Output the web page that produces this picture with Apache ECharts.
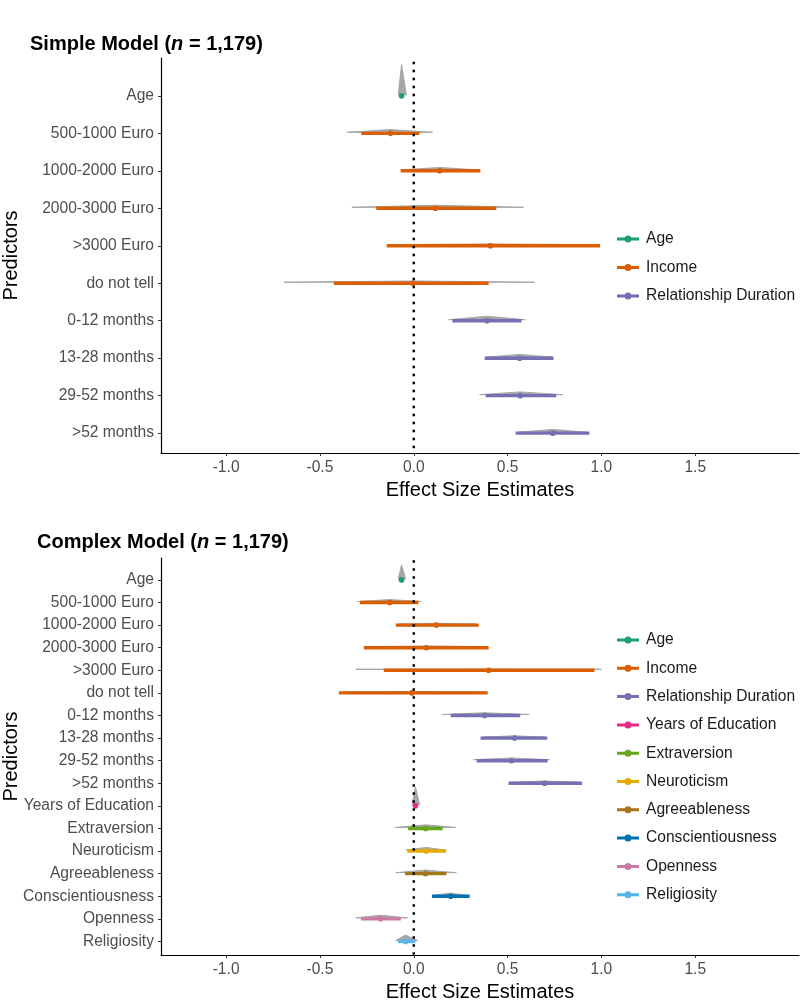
<!DOCTYPE html>
<html>
<head>
<meta charset="utf-8">
<title>Simple and Complex Model</title>
<script src="https://cdn.jsdelivr.net/npm/echarts@6/dist/echarts.min.js"></script>
<style>
  html, body { margin: 0; padding: 0; background: #fff; }
  #chart { width: 800px; height: 1000px; }
</style>
</head>
<body>
<div id="chart"></div>
<script>
// 分组与颜色
var groupNames = ['Age', 'Income', 'Relationship Duration', 'Years of Education', 'Extraversion',
    'Neuroticism', 'Agreeableness', 'Conscientiousness', 'Openness', 'Religiosity'];
var groupColors = ['#1B9E77', '#D95F02', '#7570B3', '#E7298A', '#66A61E',
    '#E6AB02', '#A6761D', '#0072B2', '#CC79A7', '#56B4E9'];

// 简单模型 (Simple Model)
var simpleLabels = ['Age', '500-1000 Euro', '1000-2000 Euro', '2000-3000 Euro', '>3000 Euro', 'do not tell',
    '0-12 months', '13-28 months', '29-52 months', '>52 months'];
var simpleGroup = ['Age', 'Income', 'Income', 'Income', 'Income', 'Income',
    'Relationship Duration', 'Relationship Duration', 'Relationship Duration', 'Relationship Duration'];
var simpleEst = [-0.065, -0.124, 0.138, 0.115, 0.408, -0.004, 0.390, 0.564, 0.567, 0.741];
var simpleLo = [-0.075, -0.280, -0.070, -0.200, -0.144, -0.426, 0.206, 0.378, 0.383, 0.543];
var simpleHi = [-0.055, 0.030, 0.355, 0.440, 0.993, 0.399, 0.574, 0.745, 0.759, 0.936];
var simpleSlabLo = [-0.083, -0.355, -0.060, -0.330, -0.130, -0.690, 0.186, 0.390, 0.351, 0.560];
var simpleSlabHi = [-0.039, 0.100, 0.330, 0.585, 0.950, 0.643, 0.594, 0.740, 0.795, 0.920];
var simpleSlabH = [0.83, 0.10, 0.09, 0.08, 0.05, 0.06, 0.12, 0.10, 0.10, 0.10];

// 复杂模型 (Complex Model)
var complexLabels = ['Age', '500-1000 Euro', '1000-2000 Euro', '2000-3000 Euro', '>3000 Euro', 'do not tell',
    '0-12 months', '13-28 months', '29-52 months', '>52 months', 'Years of Education', 'Extraversion',
    'Neuroticism', 'Agreeableness', 'Conscientiousness', 'Openness', 'Religiosity'];
var complexGroup = ['Age', 'Income', 'Income', 'Income', 'Income', 'Income',
    'Relationship Duration', 'Relationship Duration', 'Relationship Duration', 'Relationship Duration',
    'Years of Education', 'Extraversion', 'Neuroticism', 'Agreeableness', 'Conscientiousness',
    'Openness', 'Religiosity'];
var complexEst = [-0.065, -0.128, 0.120, 0.067, 0.399, -0.010, 0.378, 0.537, 0.521, 0.697,
    0.009, 0.064, 0.066, 0.062, 0.197, -0.177, -0.044];
var complexLo = [-0.075, -0.287, -0.096, -0.266, -0.160, -0.399, 0.197, 0.356, 0.335, 0.505,
    0.002, -0.030, -0.034, -0.046, 0.097, -0.282, -0.083];
var complexHi = [-0.055, 0.025, 0.346, 0.399, 0.963, 0.394, 0.567, 0.711, 0.713, 0.897,
    0.016, 0.154, 0.172, 0.174, 0.298, -0.069, 0.009];
var complexSlabLo = [-0.083, -0.300, -0.080, -0.250, -0.309, -0.380, 0.151, 0.370, 0.319, 0.520,
    -0.009, -0.100, -0.040, -0.096, 0.110, -0.309, -0.096];
var complexSlabHi = [-0.043, 0.040, 0.330, 0.380, 1.000, 0.370, 0.615, 0.700, 0.723, 0.880,
    0.032, 0.222, 0.170, 0.227, 0.280, -0.034, 0.020];
var complexSlabH = [0.66, 0.13, 0.08, 0.08, 0.05, 0.06, 0.12, 0.10, 0.12, 0.10,
    0.84, 0.16, 0.16, 0.16, 0.14, 0.16, 0.28];

var xTicks = [-1.0, -0.5, 0.0, 0.5, 1.0, 1.5];

var legendIcon = 'path://M0,2.5L22,2.5L22,5.5L0,5.5Z M7.5,4A3.5,3.5 0 1,1 14.5,4A3.5,3.5 0 1,1 7.5,4Z';

function rowsToData(labels, group, est, lo, hi, slo, shi, sh, name) {
    var out = [];
    for (var i = 0; i < labels.length; i++) {
        if (group[i] === name) {
            out.push([est[i], lo[i], hi[i], slo[i], shi[i], sh[i], i]);
        }
    }
    return out;
}

function makeRender(color) {
    return function (params, api) {
        var row = api.value(6);
        var est = api.value(0);
        var h = api.value(5);
        var pLo = api.coord([api.value(3), row]);
        var pHi = api.coord([api.value(4), row]);
        var pTop = api.coord([est, row - h]);
        var a = api.coord([api.value(1), row]);
        var b = api.coord([api.value(2), row]);
        var c = api.coord([est, row]);
        return {
            type: 'group',
            children: [
                {
                    type: 'polygon',
                    shape: { points: [[pLo[0], pLo[1] - 1], [pTop[0], pTop[1]], [pHi[0], pHi[1] - 1]] },
                    style: { fill: '#a6a6a6', stroke: '#a6a6a6', lineWidth: 1 }
                },
                {
                    type: 'line',
                    shape: { x1: a[0], y1: a[1], x2: b[0], y2: b[1] },
                    style: { stroke: color, lineWidth: 3.4 }
                },
                {
                    type: 'circle',
                    shape: { cx: c[0], cy: c[1], r: 2.8 },
                    style: { fill: color }
                }
            ]
        };
    };
}

function titleText(name) {
    return '{b|' + name + ' (}{i|n}{b| = 1,179)}';
}

var titleRich = {
    b: { fontFamily: 'Liberation Sans', fontWeight: 'bold', fontSize: 20, color: '#000' },
    i: { fontFamily: 'Liberation Sans', fontWeight: 'bold', fontStyle: 'italic', fontSize: 20, color: '#000' }
};

function xAxisCfg(grid) {
    return {
        type: 'value', gridIndex: grid, min: -1.347, max: 2.053,
        name: 'Effect Size Estimates', nameLocation: 'middle', nameGap: 27, nameMoveOverlap: false,
        nameTextStyle: { fontFamily: 'Liberation Sans', fontSize: 20, color: '#000' },
        splitLine: { show: false },
        axisLine: { onZero: false, lineStyle: { color: '#000', width: 1.2 } },
        axisTick: { show: true, length: 3, customValues: xTicks, lineStyle: { color: '#333' } },
        axisLabel: {
            customValues: xTicks, margin: 7,
            fontFamily: 'Liberation Sans', fontSize: 15.6, color: '#4d4d4d',
            formatter: function (v) { return v.toFixed(1); }
        }
    };
}

function yAxisCfg(grid, labels, min, max) {
    var idx = labels.map(function (d, i) { return i; });
    return {
        type: 'value', gridIndex: grid, inverse: true, min: min, max: max,
        name: 'Predictors', nameLocation: 'middle', nameGap: 140, nameRotate: 90, nameMoveOverlap: false,
        nameTextStyle: { fontFamily: 'Liberation Sans', fontSize: 20, color: '#000' },
        splitLine: { show: false },
        axisLine: { show: true, onZero: false, lineStyle: { color: '#000', width: 1.2 } },
        axisTick: { show: true, length: 3, customValues: idx, lineStyle: { color: '#333' } },
        axisLabel: {
            customValues: idx, margin: 7,
            fontFamily: 'Liberation Sans', fontSize: 15.6, color: '#4d4d4d',
            formatter: function (v) { return labels[Math.round(v)]; }
        }
    };
}

var series = [];
var simpleNames = ['Age', 'Income', 'Relationship Duration'];
simpleNames.forEach(function (name) {
    var color = groupColors[groupNames.indexOf(name)];
    series.push({
        name: name, type: 'custom', xAxisIndex: 0, yAxisIndex: 0,
        itemStyle: { color: color },
        renderItem: makeRender(color),
        data: rowsToData(simpleLabels, simpleGroup, simpleEst, simpleLo, simpleHi,
            simpleSlabLo, simpleSlabHi, simpleSlabH, name)
    });
});
groupNames.forEach(function (name, k) {
    var color = groupColors[k];
    series.push({
        name: name, type: 'custom', xAxisIndex: 1, yAxisIndex: 1,
        itemStyle: { color: color },
        renderItem: makeRender(color),
        data: rowsToData(complexLabels, complexGroup, complexEst, complexLo, complexHi,
            complexSlabLo, complexSlabHi, complexSlabH, name)
    });
});

// 零点虚线
var topRange = [-1.01, 9.53];
var botRange = [-0.97, 16.6];
series.push({
    type: 'line', xAxisIndex: 0, yAxisIndex: 0, symbol: 'none', z: 10, silent: true,
    lineStyle: { color: '#000', width: 2.5, type: [2.5, 5.5] },
    data: [[0, topRange[0] + 0.1], [0, topRange[1]]]
});
series.push({
    type: 'line', xAxisIndex: 1, yAxisIndex: 1, symbol: 'none', z: 10, silent: true,
    lineStyle: { color: '#000', width: 2.5, type: [2.5, 5.5] },
    data: [[0, botRange[0] + 0.1], [0, botRange[1]]]
});

var legendText = { fontFamily: 'Liberation Sans', fontSize: 15.6, color: '#1a1a1a', lineHeight: 18, padding: [0, 0, 0, 2] };

var option = {
    animation: false,
    backgroundColor: '#fff',
    title: [
        { text: titleText('Simple Model'), left: 25, top: 29, textStyle: { rich: titleRich } },
        { text: titleText('Complex Model'), left: 32, top: 527, textStyle: { rich: titleRich } }
    ],
    legend: [
        {
            data: simpleNames, left: 612, top: 225, orient: 'vertical',
            itemWidth: 22, itemHeight: 8, itemGap: 10.5, icon: legendIcon,
            textStyle: legendText, selectedMode: false
        },
        {
            data: groupNames, left: 612, top: 626, orient: 'vertical',
            itemWidth: 22, itemHeight: 8, itemGap: 10.3, icon: legendIcon,
            textStyle: legendText, selectedMode: false
        }
    ],
    grid: [
        { left: 161, right: 1, top: 58, height: 395, containLabel: false, outerBoundsMode: 'none' },
        { left: 161, right: 1, top: 558, height: 397, containLabel: false, outerBoundsMode: 'none' }
    ],
    xAxis: [xAxisCfg(0), xAxisCfg(1)],
    yAxis: [
        yAxisCfg(0, simpleLabels, topRange[0], topRange[1]),
        yAxisCfg(1, complexLabels, botRange[0], botRange[1])
    ],
    series: series
};

var myChart = echarts.init(document.getElementById('chart'));
myChart.setOption(option);
</script>
</body>
</html>
